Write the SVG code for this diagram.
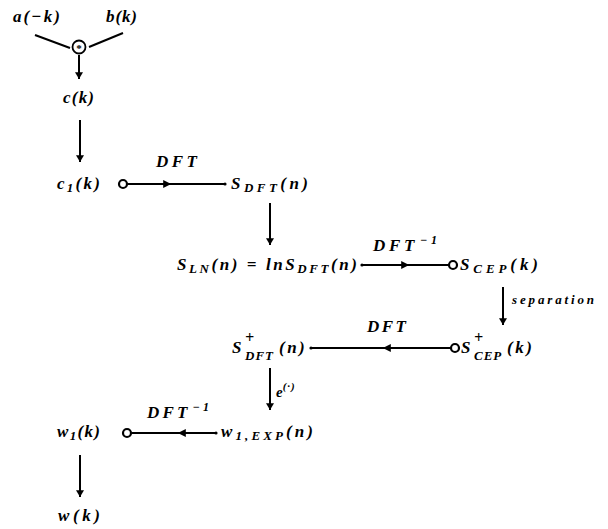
<svg xmlns="http://www.w3.org/2000/svg" width="608" height="529" viewBox="0 0 608 529">
<style>
text{font-family:"Liberation Serif","DejaVu Serif",serif;font-style:italic;font-weight:bold;font-size:17px;fill:#000}
.sub{font-size:13px}
.sup{font-size:12px}
.ln{stroke:#000;stroke-width:2;fill:none}
.oc{stroke:#000;stroke-width:2.2;fill:#fff}
</style>
<defs>
<marker id="ah" viewBox="0 0 10 12" refX="10" refY="6" markerWidth="12" markerHeight="8" markerUnits="userSpaceOnUse" orient="auto">
<path d="M0,0 L10,6 L0,12 z" fill="#000"/>
</marker>
<marker id="am" viewBox="0 0 10 10" refX="6" refY="5" markerWidth="11" markerHeight="8" markerUnits="userSpaceOnUse" orient="auto">
<path d="M0,0 L10,5 L0,10 z" fill="#000"/>
</marker>
</defs>
<g id="connectors">
<line class="ln" x1="35" y1="35" x2="70" y2="48"/>
<line class="ln" x1="89" y1="47" x2="123" y2="33"/>
<line class="ln" x1="79" y1="55" x2="79" y2="79" marker-end="url(#ah)"/>
<line class="ln" x1="80" y1="120" x2="80" y2="162" marker-end="url(#ah)"/>
<polyline class="ln" points="127,184 168,184 225,184" marker-mid="url(#am)"/>
<circle cx="225" cy="184" r="1.6" fill="#000"/>
<line class="ln" x1="270" y1="203" x2="270" y2="245" marker-end="url(#ah)"/>
<polyline class="ln" points="362,265 406,265 449,265" marker-mid="url(#am)"/>
<circle cx="362" cy="265" r="1.6" fill="#000"/>
<line class="ln" x1="503" y1="287" x2="503" y2="325" marker-end="url(#ah)"/>
<polyline class="ln" points="451,348 386,348 311,348" marker-mid="url(#am)"/>
<circle cx="311" cy="348" r="1.6" fill="#000"/>
<line class="ln" x1="270" y1="368" x2="270" y2="410" marker-end="url(#ah)"/>
<polyline class="ln" points="216,433 181,433 132,433" marker-mid="url(#am)"/>
<circle cx="216" cy="433" r="1.6" fill="#000"/>
<line class="ln" x1="80" y1="455" x2="80" y2="497" marker-end="url(#ah)"/>
<text x="156" y="167" textLength="41">DFT</text>
<text x="373" y="251" textLength="64">DFT<tspan class="sup" dy="-7" dx="2">−1</tspan></text>
<text x="512" y="304" style="font-size:13px" textLength="82">separation</text>
<text x="367" y="332" textLength="39">DFT</text>
<text x="276" y="397" style="font-size:15px">e<tspan dy="-7" style="font-size:11px;letter-spacing:1px">(·)</tspan></text>
<text x="147" y="418" textLength="62">DFT<tspan class="sup" dy="-7" dx="2">−1</tspan></text>
</g>
<g id="conv">
<circle cx="79" cy="47" r="6.5" class="oc" style="stroke-width:1.8"/>
<text x="79" y="52" text-anchor="middle" style="font-size:11px;font-style:normal">*</text>
</g>
<g id="a"><text x="13" y="22" textLength="47">a(−k)</text></g>
<g id="b"><text x="106" y="22" textLength="31">b(k)</text></g>
<g id="c"><text x="63" y="103" textLength="31">c(k)</text></g>
<g id="c1"><text x="57" y="189" textLength="43">c<tspan class="sub" dy="3">1</tspan><tspan dy="-3">(k)</tspan></text><circle cx="123" cy="184" r="4" class="oc"/></g>
<g id="sdft"><text x="231" y="189" textLength="77">S<tspan class="sub" dy="3">DFT</tspan><tspan dy="-3">(n)</tspan></text></g>
<g id="sln"><text x="177" y="270" textLength="180">S<tspan class="sub" dy="3">LN</tspan><tspan dy="-3">(n) = lnS</tspan><tspan class="sub" dy="3">DFT</tspan><tspan dy="-3">(n)</tspan></text></g>
<g id="scep"><circle cx="453" cy="265" r="4" class="oc"/><text x="460" y="270" textLength="78">S<tspan class="sub" dy="3">CEP</tspan><tspan dy="-3">(k)</tspan></text></g>
<g id="sdftp"><text><tspan x="232" y="353">S</tspan><tspan x="245" y="343" style="font-size:16px">+</tspan><tspan x="245" y="360" class="sub" style="letter-spacing:1px">DFT</tspan><tspan x="279" y="353" style="letter-spacing:2.5px">(n)</tspan></text></g>
<g id="scepp"><circle cx="455" cy="348" r="4" class="oc"/><text><tspan x="461" y="353">S</tspan><tspan x="474" y="343" style="font-size:16px">+</tspan><tspan x="474" y="360" class="sub" style="letter-spacing:1px">CEP</tspan><tspan x="507" y="353" style="letter-spacing:2.5px">(k)</tspan></text></g>
<g id="w1exp"><text x="221" y="437" textLength="92">w<tspan class="sub" dy="3">1,EXP</tspan><tspan dy="-3">(n)</tspan></text></g>
<g id="w1"><circle cx="127" cy="433" r="4" class="oc"/><text x="57" y="437" textLength="43">w<tspan class="sub" dy="3">1</tspan><tspan dy="-3">(k)</tspan></text></g>
<g id="w"><text x="58" y="521" textLength="42">w(k)</text></g>
</svg>
